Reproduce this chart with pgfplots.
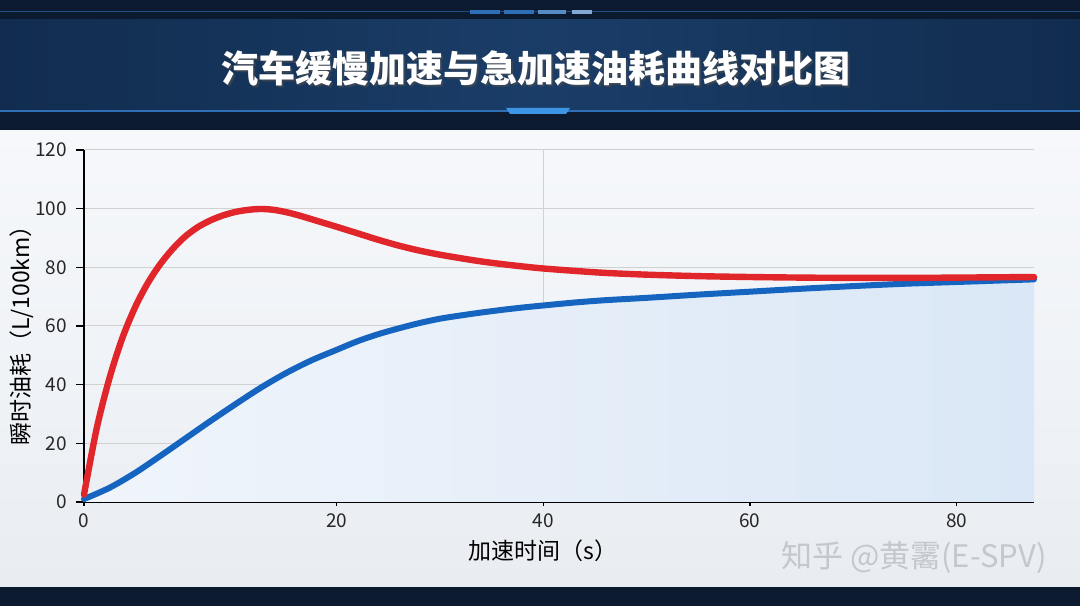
\documentclass[border=0pt]{standalone}
\usepackage{fontspec}
\setmainfont{Noto Sans CJK SC}
\usepackage{pgfplots}
\usepackage{pgfplotstable}
\pgfplotsset{compat=1.18}
\definecolor{hdrdark}{HTML}{0B1A2F}
\definecolor{hdrpanelA}{HTML}{112C4E}
\definecolor{hdrpanelB}{HTML}{1A3D68}
\definecolor{hdrline}{HTML}{2F6FB5}
\definecolor{hdrbright}{HTML}{3D95E6}
\definecolor{bgtop}{HTML}{F6F8FB}
\definecolor{bgbot}{HTML}{E9EDF2}
\definecolor{redc}{HTML}{E0262B}
\definecolor{bluec}{HTML}{1565C0}
\definecolor{fillL}{HTML}{F0F5FB}
\definecolor{fillR}{HTML}{DAE7F6}
\definecolor{wm}{HTML}{C3C8CE}

\pgfplotstableread{
x y
0 2.5
1 25
2 42
3 55.5
4 66
5 74.3
6 80.9
7 86.2
8 90.5
9 93.7
10 96.0
11 97.7
12 98.9
13 99.6
14 99.9
15 99.6
16 98.8
17 97.7
18 96.4
19 95.1
20 93.8
22 91.6
24 89.4
26 87.4
28 85.7
30 84.3
32 83.1
34 82.0
36 81.1
38 80.3
40 79.6
43 78.8
46 78.1
50 77.5
55 77.0
60 76.7
65 76.5
70 76.4
75 76.4
80 76.5
87.5 76.7
}\redtab

\pgfplotstableread{
x y
0 1.0
2 4.8
4 9.8
6 15.6
8 21.6
10 27.6
12 33.4
14 39.0
16 44.0
18 48.3
20 51.9
22 54.8
24 57.2
26 59.2
28 61.0
30 62.5
32 63.6
34 64.6
36 65.5
38 66.3
40 67.0
43 68.0
46 68.8
50 69.6
55 70.7
60 71.7
65 72.7
70 73.6
75 74.4
80 75.0
87.5 75.9
}\bluetab

\begin{document}
\begin{tikzpicture}
\path[use as bounding box] (0,0) rectangle (540bp,303bp);
% middle background
\shade[top color=bgtop, bottom color=bgbot] (0,9.5bp) rectangle (540bp,238bp);
% header
\fill[hdrdark] (0,238bp) rectangle (540bp,303bp);
\shade[left color=hdrpanelA, right color=hdrpanelA, middle color=hdrpanelB] (0,247bp) rectangle (540bp,293bp);
\draw[hdrline!60!hdrdark, line width=0.5bp] (0,297bp) -- (540bp,297bp);
\fill[hdrline] (235bp,296bp) rectangle (250bp,298bp);
\fill[hdrline] (252bp,296bp) rectangle (267bp,298bp);
\fill[hdrline!80] (269bp,296bp) rectangle (283bp,298bp);
\fill[hdrline!60] (286bp,296bp) rectangle (296bp,298bp);
\draw[hdrline, line width=0.6bp] (0,247.5bp) -- (540bp,247.5bp);
\fill[hdrbright] (253bp,249bp) -- (285bp,249bp) -- (283bp,246bp) -- (255bp,246bp) -- cycle;
% title
\node[text=black!70, opacity=0.6, font=\fontsize{18.5bp}{22bp}\selectfont\bfseries] at (269bp,268bp) {汽车缓慢加速与急加速油耗曲线对比图};
\node[text=white, font=\fontsize{18.5bp}{22bp}\selectfont\bfseries] at (268bp,269bp) {汽车缓慢加速与急加速油耗曲线对比图};
% bottom strip
\fill[hdrdark] (0,0) rectangle (540bp,9.5bp);
% watermark
\node[text=wm, font=\fontsize{15.5bp}{18bp}\selectfont] at (457bp,24bp) {知乎 @黄霱(E-SPV)};

\begin{axis}[
  at={(42bp,52bp)}, anchor=south west,
  width=475bp, height=176bp, scale only axis,
  xmin=0, xmax=87.5, ymin=0, ymax=120,
  x coord trafo/.code={\pgfmathparse{#1+0.224*min(#1,20)}},
  xtick={0,20,40,60,80}, xticklabels={0,20,40,60,80},
  ytick={0,20,40,60,80,100,120},
  extra x ticks={40}, extra x tick labels={},
  extra x tick style={grid=major, major tick length=0pt},
  axis x line*=bottom, axis y line*=left,
  axis line style={black, line width=0.6bp},
  tick style={black, line width=0.6bp},
  major tick length=4bp,
  xtick align=center, ytick align=outside,
  ymajorgrids,
  grid style={black!18, line width=0.5bp},
  tick label style={font=\fontsize{9.5bp}{11bp}\selectfont, text=black!85},
  /pgf/number format/assume math mode=true,
  yticklabel style={xshift=-1bp},
  xticklabel style={yshift=-0.5bp},
  clip=false,
]
\addplot[draw=none, left color=fillL, right color=fillR, smooth, forget plot] table[x=x,y=y] {\bluetab} \closedcycle;
\addplot[bluec, line width=3bp, smooth, line cap=round] table[x=x,y=y] {\bluetab};
\addplot[redc, line width=3.2bp, smooth, line cap=round] table[x=x,y=y] {\redtab};
\end{axis}
\node[rotate=90, font=\fontsize{11.5bp}{13bp}\selectfont] at (11bp,138bp) {瞬时油耗（L/100km）};
\node[font=\fontsize{11.5bp}{13bp}\selectfont] at (271.5bp,27.5bp) {加速时间（s）};
\end{tikzpicture}
\end{document}
